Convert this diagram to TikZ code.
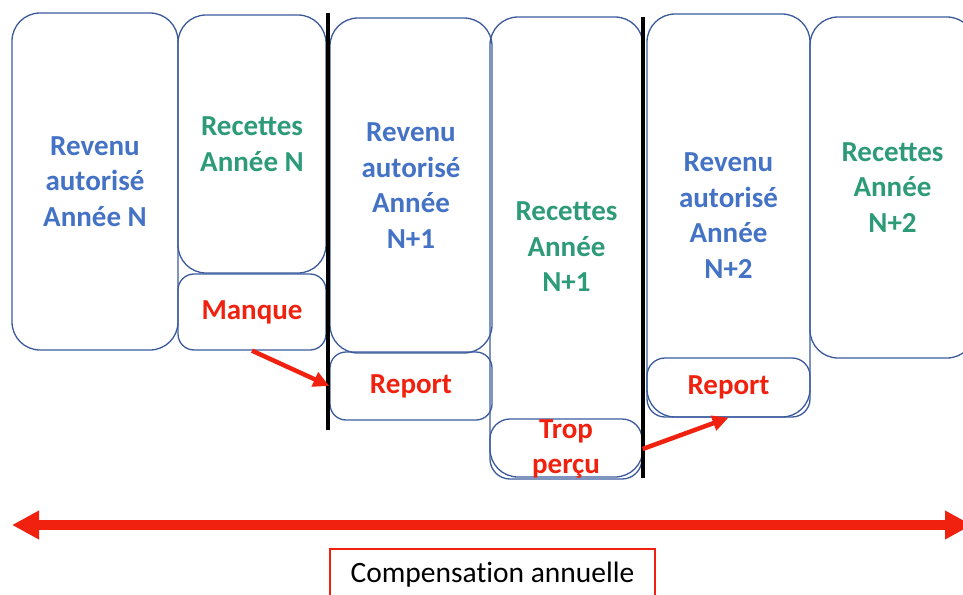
\documentclass[tikz,border=0pt]{standalone}
\usepackage{fontspec}
\setmainfont{Carlito}
\newfontfamily\captionfont[Ligatures=NoCommon]{Carlito}
\usetikzlibrary{arrows.meta}
\definecolor{boxline}{HTML}{3A5A9C}
\definecolor{revblue}{HTML}{4472C4}
\definecolor{recgreen}{HTML}{2E9B78}
\definecolor{alertred}{HTML}{F0220F}
\begin{document}
\begin{tikzpicture}[x=1pt,y=-1pt,
  yearbox/.style={draw=boxline, line width=1.3pt, rounded corners=#1,
    inner sep=0pt, align=center,
    font=\fontsize{29}{35.5}\selectfont\bfseries},
  yearbox/.default=28pt,
  revenu/.style={yearbox, text=revblue},
  recette/.style={yearbox, text=recgreen},
  ecart/.style={yearbox=#1, text=alertred},
  ecart/.default=16pt,
  divider/.style={line width=4.5pt, black},
  carryarrow/.style={alertred, line width=4.5pt, -{Triangle[length=16pt,width=15pt]}},
  spanarrow/.style={alertred, line width=10pt,
    {Triangle[length=27pt,width=27pt]}-{Triangle[length=27pt,width=27pt]}}
]
\useasboundingbox (0,0) rectangle (963,594);
\clip (0,0) rectangle (963,594);

% year N
\node[revenu, minimum width=166pt, minimum height=337pt] (rev0) at (95,181.5)
  {Revenu\\autorisé\\Année N};
\node[recette, minimum width=148pt, minimum height=258pt] (rec0) at (252,144)
  {Recettes\\Année N};
\node[ecart, minimum width=148pt, minimum height=76pt] (manque) at (252,312)
  {Manque};

% year N+1
\node[revenu, minimum width=162pt, minimum height=335pt] (rev1) at (411,185.5)
  {Revenu\\autorisé\\Année\\N+1};
\node[ecart, minimum width=162pt, minimum height=68pt] (rep1) at (411,386)
  {Report};
\node[recette, minimum width=153pt, minimum height=460pt] (rec1) at (566.5,247)
  {Recettes\\Année\\N+1};
\node[ecart=20pt, minimum width=152pt, minimum height=60pt] (trop) at (566,449)
  {Trop\\perçu};

% year N+2
\node[revenu, minimum width=163pt, minimum height=403pt] (rev2) at (728.5,215.5)
  {Revenu\\autorisé\\Année\\N+2};
\node[ecart=18pt, minimum width=163pt, minimum height=59pt] (rep2) at (728.5,387.5)
  {Report};
\node[recette, minimum width=165pt, minimum height=341pt] (rec2) at (892.5,187.5)
  {Recettes\\Année\\N+2};

% year boundaries
\coordinate (d1top) at (328,13);
\coordinate (d1bot) at (328,430);
\coordinate (d2top) at (643,17);
\coordinate (d2bot) at (643,478);
\draw[divider] (d1top) -- (d1bot);
\draw[divider] (d2top) -- (d2bot);

% carry-over arrows
\draw[carryarrow] (manque.south) -- (rep1.west);
\draw[carryarrow] (trop.east) -- (rep2.south);

% annual compensation span
\coordinate (spanL) at (12,525);
\coordinate (spanR) at (972,525);
\draw[spanarrow] (spanL) -- (spanR);
\node[draw=alertred, line width=2.2pt, minimum width=325pt, minimum height=52pt,
  inner sep=0pt, font=\captionfont\fontsize{29.5}{35}\selectfont] (comp) at (492.5,575)
  {Compensation annuelle};
\end{tikzpicture}
\end{document}
